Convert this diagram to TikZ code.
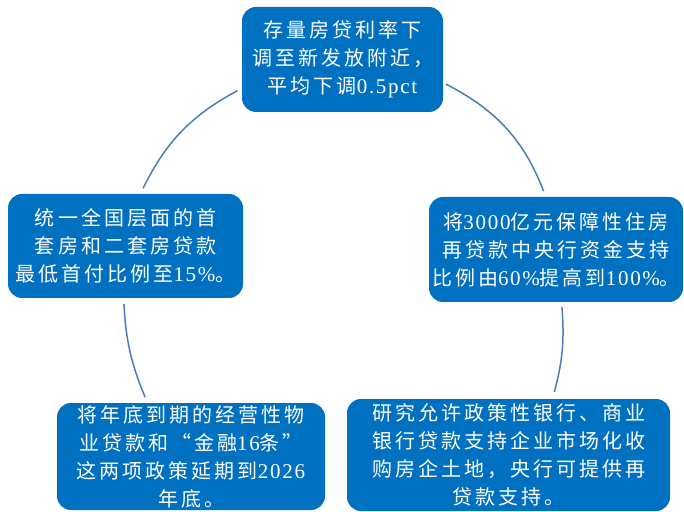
\documentclass[tikz,border=0pt]{standalone}
\usepackage{fontspec}
\newfontfamily\cjk[LetterSpace=15]{Noto Sans CJK SC}
\newfontfamily\lat[LetterSpace=8]{Liberation Serif}
\newcommand\latnum[1]{{\lat\fontsize{21}{28}\selectfont #1}}
\usetikzlibrary{positioning}
\definecolor{boxblue}{HTML}{0070C0}
\definecolor{arcblue}{HTML}{4A7EBB}
\tikzset{
  policybox/.style={fill=boxblue, rounded corners=14pt, text=white, align=center,
    inner sep=0pt, font=\cjk\fontsize{20}{28}\selectfont},
  ringarc/.style={draw=arcblue, line width=1.5pt}
}

\begin{document}
\begin{tikzpicture}[x=1pt, y=1pt]
  \useasboundingbox (0,0) rectangle (684,511);

  \node [policybox, minimum width=201pt, minimum height=105pt] (rate) at (342.5,451.5)
    {存量房贷利率下\\调至新发放附近，\\平均下调\latnum{0.5pct}};
  \node [policybox, minimum width=235pt, minimum height=104pt] (downpay) at (125.5,265)
    {统一全国层面的首\\套房和二套房贷款\\最低首付比例至\latnum{15\%}。};
  \node [policybox, minimum width=254pt, minimum height=105pt] (relend) at (556,261.5)
    {将\latnum{3000}亿元保障性住房\\再贷款中央行资金支持\\比例由\latnum{60\%}提高到\latnum{100\%}。};
  \node [policybox, minimum width=268pt, minimum height=107pt] (extend) at (191,54.5)
    {将年底到期的经营性物\\业贷款和“金融\latnum{16}条”\\这两项政策延期到\latnum{2026}\\年底。};
  \node [policybox, minimum width=323pt, minimum height=112pt] (land) at (508.5,56)
    {研究允许政策性银行、商业\\银行贷款支持企业市场化收\\购房企土地，央行可提供再\\贷款支持。};

  \draw [ringarc, shorten <=5pt, shorten >=6pt] (rate.196) to [bend right=18] (downpay.74);
  \draw [ringarc, shorten <=6pt, shorten >=6pt] (downpay.268) to [bend right=10] (extend.129);
  \draw [ringarc, shorten <=3pt, shorten >=6pt] (rate.347) to [bend left=21] (relend.101);
  \draw [ringarc, shorten <=5pt, shorten >=7pt] (relend.276) to [bend left=10] (land.52);
\end{tikzpicture}
\end{document}
